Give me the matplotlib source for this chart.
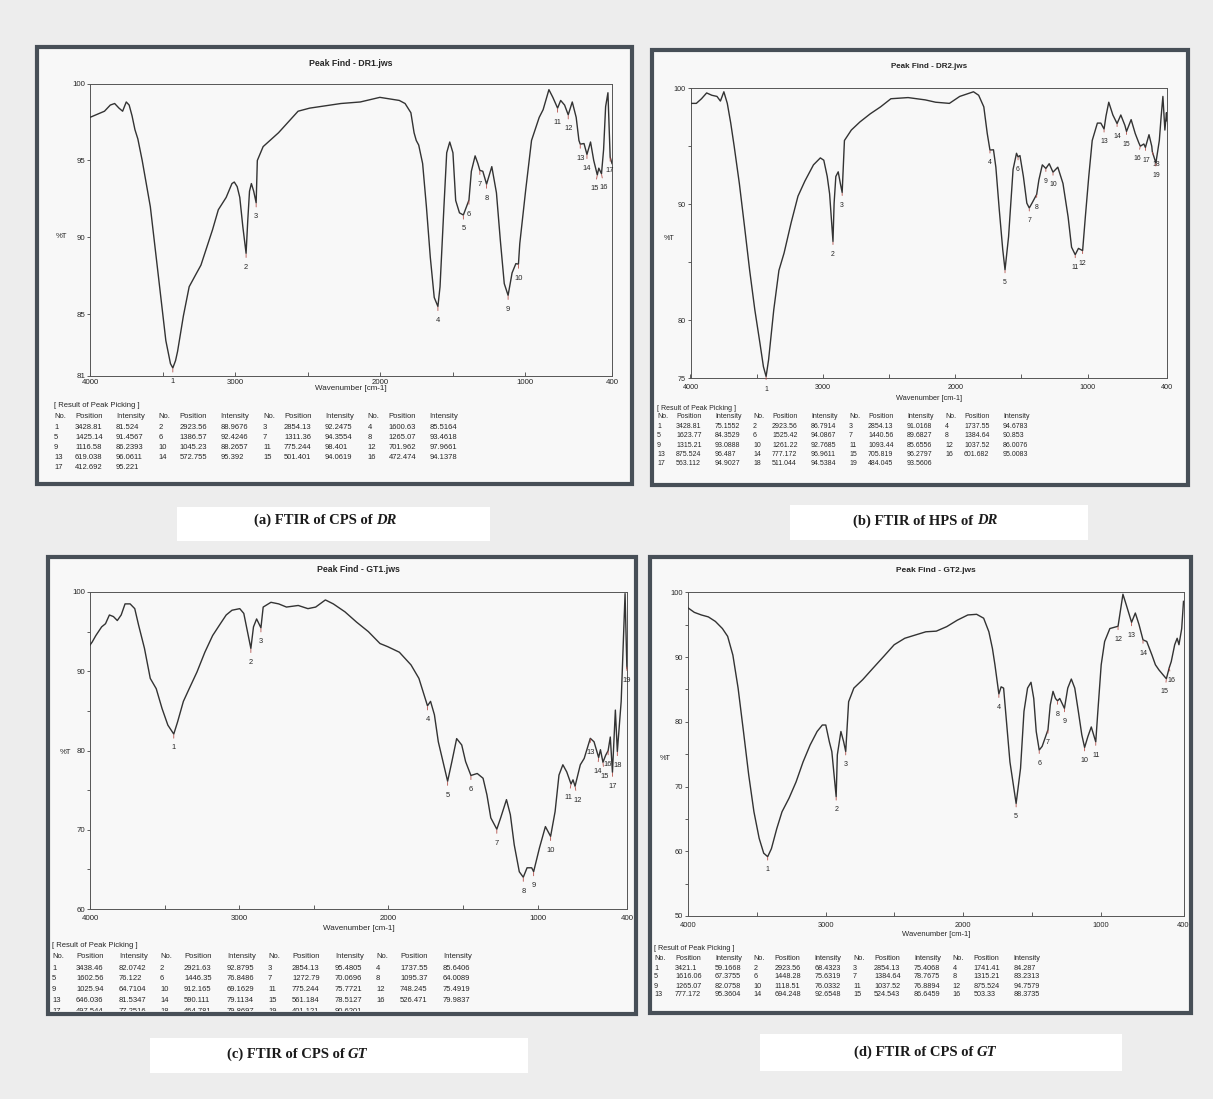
import matplotlib
matplotlib.use('Agg')
import matplotlib.pyplot as plt
from matplotlib.patches import Rectangle
from matplotlib.transforms import Bbox, TransformedBbox

# ---------------------------------------------------------------- data
# (a) DR1 spectrum
WN_DR1 = [4000, 3950, 3900, 3860, 3830, 3800, 3775, 3750, 3730, 3710, 3690, 3670, 3640, 3584,
          3531, 3477, 3445, 3428.81, 3410, 3396, 3356, 3316, 3270, 3235, 3155, 3115, 3061, 3021,
          3005, 2985, 2967, 2946, 2923.56, 2912, 2900, 2887, 2871, 2854.13, 2846, 2806, 2700,
          2565, 2485, 2270, 2136, 2001, 1867, 1827, 1787, 1765, 1750, 1733, 1706, 1680, 1653,
          1626, 1600.63, 1586, 1559, 1540, 1519, 1497, 1478, 1452, 1425.14, 1386.57, 1370, 1344,
          1325, 1311.36, 1291, 1265.07, 1229, 1197, 1170, 1143, 1116.58, 1089, 1063, 1045.23,
          1036, 995, 955, 902, 875, 835, 808, 775.244, 754, 727, 701.962, 674, 647, 628, 619.038,
          593, 572.755, 548, 526, 501.401, 491, 472.474, 458, 444, 428, 412.692, 400]
T_DR1 = [97.8, 98.0, 98.2, 98.6, 98.7, 98.4, 98.2, 98.8, 98.6, 97.9, 97.0, 96.4, 95.0, 92.0,
         87.7, 83.3, 81.8, 81.524, 82.0, 82.6, 84.9, 86.8, 87.6, 88.2, 90.5, 91.8, 92.6, 93.5,
         93.6, 93.3, 92.6, 90.7, 88.9676, 91.1, 93.0, 93.5, 93.0, 92.2475, 95.0, 95.9, 96.8,
         98.2, 98.4, 98.7, 98.8, 99.1, 98.9, 98.7, 98.1, 96.8, 96.3, 96.0, 94.8, 92.0, 88.7,
         86.1, 85.5164, 86.8, 92.0, 95.5, 96.2, 95.5, 92.4, 91.6, 91.4567, 92.4246, 94.3, 95.3,
         94.8, 94.3554, 94.3, 93.4618, 94.6, 92.9, 89.8, 87.0, 86.2393, 87.7, 88.3, 88.2657,
         89.6, 93.1, 96.3, 97.8, 98.3, 99.6, 99.1, 98.401, 98.9, 98.6, 97.9661, 98.8, 97.8, 96.3,
         96.0611, 96.1, 95.392, 96.2, 95.0, 94.0619, 94.5, 94.1378, 95.7, 98.5, 99.4, 95.221, 94.8]
PK_POS_DR1 = [3428.81, 2923.56, 2854.13, 1600.63, 1425.14, 1386.57, 1311.36, 1265.07, 1116.58,
              1045.23, 775.244, 701.962, 619.038, 572.755, 501.401, 472.474, 412.692]
PK_INT_DR1 = [81.524, 88.9676, 92.2475, 85.5164, 91.4567, 92.4246, 94.3554, 93.4618, 86.2393,
              88.2657, 98.401, 97.9661, 96.0611, 95.392, 94.0619, 94.1378, 95.221]

# (b) DR2 spectrum
WN_DR2 = [4000, 3956, 3917, 3878, 3839, 3800, 3774, 3748, 3722, 3696, 3670, 3631, 3592, 3553,
          3514, 3475, 3449, 3428.81, 3410, 3371, 3332, 3293, 3240, 3188, 3136, 3071, 3019, 2993,
          2967, 2949, 2923.56, 2915, 2902, 2884, 2868, 2854.13, 2837, 2785, 2720, 2642, 2564,
          2486, 2356, 2226, 2148, 2044, 2018, 1966, 1862, 1823, 1784, 1758, 1737.55, 1711, 1693,
          1667, 1641, 1623.77, 1597, 1563, 1537, 1525.42, 1511, 1485, 1459, 1440.56, 1420,
          1384.64, 1368, 1342, 1315.21, 1290, 1261.22, 1225, 1186, 1147, 1121, 1093.44, 1069,
          1037.52, 1017, 991, 965, 926, 900, 875.524, 861, 840, 809, 777.172, 749, 718, 705.819,
          671, 640, 613, 601.682, 575, 563.112, 536, 515, 511.044, 484.045, 458, 444, 431, 416,
          404, 400]
T_DR2 = [98.7, 98.7, 99.1, 99.6, 99.4, 99.3, 98.9, 99.7, 98.7, 97.0, 95.0, 91.8, 88.1, 84.3,
         80.9, 78.0, 76.0, 75.1552, 76.6, 80.9, 84.3, 85.8, 88.4, 90.7, 92.0, 93.4, 94.0, 93.8,
         92.4, 90.9, 86.7914, 90.1, 92.4, 92.8, 91.8, 91.0168, 95.5, 96.4, 97.1, 97.8, 98.4,
         99.1, 99.2, 99.0, 98.8, 98.7, 98.9, 99.3, 99.7, 99.4, 98.4, 96.1, 94.6783, 94.7, 93.2,
         89.5, 86.1, 84.3529, 87.2, 93.0, 94.4, 94.0867, 94.2, 92.4, 90.1, 89.6827, 90.1,
         90.853, 92.1, 93.4, 93.0888, 93.5, 92.7685, 93.2, 91.8, 88.9, 86.3, 85.6556, 86.2,
         86.0076, 88.9, 92.4, 95.5, 97.0, 97.0, 96.487, 97.6, 98.8, 97.7, 96.9611, 97.7, 96.8,
         96.2797, 97.3, 96.1, 95.3, 95.0083, 95.2, 94.9027, 96.0, 95.0, 94.5384, 93.5606, 95.5,
         97.6, 99.3, 96.4, 97.9, 97.2]
PK_POS_DR2 = [3428.81, 2923.56, 2854.13, 1737.55, 1623.77, 1525.42, 1440.56, 1384.64, 1315.21,
              1261.22, 1093.44, 1037.52, 875.524, 777.172, 705.819, 601.682, 563.112, 511.044,
              484.045]
PK_INT_DR2 = [75.1552, 86.7914, 91.0168, 94.6783, 84.3529, 94.0867, 89.6827, 90.853, 93.0888,
              92.7685, 85.6556, 86.0076, 96.487, 96.9611, 96.2797, 95.0083, 94.9027, 94.5384,
              93.5606]

# (c) GT1 spectrum
WN_GT1 = [4000, 3985, 3961, 3922, 3896, 3870, 3843, 3817, 3791, 3765, 3731, 3700, 3674, 3635,
          3596, 3556, 3517, 3478, 3438.46, 3413, 3374, 3335, 3283, 3230, 3178, 3126, 3087, 3048,
          2996, 2969, 2921.63, 2904, 2883, 2854.13, 2839, 2787, 2735, 2683, 2604, 2539, 2487,
          2422, 2369, 2291, 2213, 2134, 2056, 2004, 1926, 1848, 1795, 1737.55, 1717, 1691, 1665,
          1602.56, 1574, 1542, 1508, 1482, 1446.35, 1404, 1365, 1339, 1313, 1272.79, 1247, 1208,
          1182, 1156, 1122, 1095.37, 1070, 1039, 1025.94, 987, 947, 912.165, 882, 856, 830, 804,
          775.244, 762, 748.245, 713, 687, 646.036, 621, 590.111, 578, 561.184, 543, 526.471,
          512, 497.544, 478, 464.781, 439, 413, 401.121, 400]
T_GT1 = [93.3, 93.7, 94.5, 95.6, 96.0, 97.1, 96.9, 96.4, 97.1, 98.5, 98.5, 97.9, 95.8, 92.9,
         89.1, 87.8, 85.3, 83.2, 82.0742, 83.6, 86.2, 87.8, 89.9, 92.4, 94.5, 96.0, 97.1, 97.7,
         97.9, 97.3, 92.8795, 95.6, 96.6, 95.4805, 98.1, 98.7, 98.5, 98.1, 98.3, 97.9, 98.1,
         99.0, 98.5, 97.5, 96.2, 95.0, 93.5, 93.1, 92.4, 90.8, 89.1, 85.6406, 86.2, 84.5, 81.1,
         76.122, 78.6, 81.5, 80.7, 78.6, 76.8486, 77.1, 76.5, 74.4, 71.5, 70.0696, 71.5, 73.8,
         71.9, 68.1, 64.7, 64.0089, 65.2, 65.2, 64.7104, 67.7, 70.4, 69.1629, 72.3, 76.9, 78.2,
         77.3, 75.7721, 76.3, 75.4919, 78.2, 79.0, 81.5347, 81.1, 79.1134, 80.1, 78.5127, 79.4,
         79.9837, 81.7, 77.2516, 85.1, 79.8697, 86.2, 99.8, 90.6201, 90.4]
PK_POS_GT1 = [3438.46, 2921.63, 2854.13, 1737.55, 1602.56, 1446.35, 1272.79, 1095.37, 1025.94,
              912.165, 775.244, 748.245, 646.036, 590.111, 561.184, 526.471, 497.544, 464.781,
              401.121]
PK_INT_GT1 = [82.0742, 92.8795, 95.4805, 85.6406, 76.122, 76.8486, 70.0696, 64.0089, 64.7104,
              69.1629, 75.7721, 75.4919, 81.5347, 79.1134, 78.5127, 79.9837, 77.2516, 79.8697,
              90.6201]

# (d) GT2 spectrum
WN_GT2 = [4000, 3954, 3903, 3852, 3801, 3750, 3712, 3674, 3636, 3597, 3559, 3521, 3483, 3450,
          3421.1, 3394, 3355, 3317, 3266, 3215, 3164, 3113, 3062, 3024, 2999, 2973, 2955,
          2923.56, 2915, 2889, 2869, 2854.13, 2833, 2795, 2731, 2655, 2578, 2502, 2425, 2349,
          2272, 2196, 2120, 2043, 1967, 1903, 1852, 1814, 1788, 1770, 1741.41, 1725, 1707, 1686,
          1661, 1616.06, 1584, 1559, 1533, 1508, 1488, 1470, 1448.28, 1427, 1384.64, 1368, 1348,
          1330, 1315.21, 1299, 1265.07, 1241, 1215, 1190, 1164, 1139, 1118.51, 1095, 1070,
          1037.52, 1024, 998, 973, 935, 875.524, 840, 815, 777.172, 750, 723, 694.248, 667, 629,
          604, 578, 524.543, 503.33, 489, 464, 446, 433, 413, 400]
T_GT2 = [97.6, 96.9, 96.5, 96.2, 95.5, 94.4, 93.2, 90.3, 85.2, 78.5, 71.8, 66.1, 62.0, 59.7,
         59.1668, 60.4, 63.5, 66.1, 68.2, 70.7, 73.8, 76.4, 78.5, 79.5, 79.5, 76.9, 75.4,
         68.4323, 74.9, 78.5, 76.9, 75.4068, 83.1, 85.2, 86.5, 88.3, 90.1, 91.9, 92.9, 93.4,
         93.9, 94.0, 94.7, 95.7, 96.5, 96.6, 96.0, 93.9, 91.3, 88.8, 84.287, 85.4, 85.2, 80.0,
         73.8, 67.3755, 72.8, 81.6, 85.2, 86.1, 83.6, 78.5, 75.6319, 76.2, 78.7675, 82.6, 84.7,
         83.6, 83.2313, 83.6, 82.0758, 85.2, 86.6, 85.2, 81.6, 78.0, 76.0332, 77.7, 79.2,
         76.8894, 81.1, 88.8, 92.4, 94.4, 94.7579, 99.7, 98.0, 95.3604, 96.8, 95.0, 92.6548,
         92.4, 90.3, 88.8, 88.0, 86.6459, 88.3735, 89.3, 91.9, 92.9, 91.9, 94.4, 98.6]
PK_POS_GT2 = [3421.1, 2923.56, 2854.13, 1741.41, 1616.06, 1448.28, 1384.64, 1315.21, 1265.07,
              1118.51, 1037.52, 875.524, 777.172, 694.248, 524.543, 503.33]
PK_INT_GT2 = [59.1668, 68.4323, 75.4068, 84.287, 67.3755, 75.6319, 78.7675, 83.2313, 82.0758,
              76.0332, 76.8894, 94.7579, 95.3604, 92.6548, 86.6459, 88.3735]

TITLES = ['Peak Find - DR1.jws', 'Peak Find - DR2.jws', 'Peak Find - GT1.jws', 'Peak Find - GT2.jws']
CAPTION_MAIN = ['(a) FTIR of CPS of ', '(b) FTIR of HPS of ', '(c) FTIR of CPS of ', '(d) FTIR of CPS of ']
CAPTION_ITAL = ['DR', 'DR', 'GT', 'GT']
X_TICKS = [4000, 3000, 2000, 1000, 400]
Y_TICKS = [[100, 95, 90, 85, 81], [100, 90, 80, 75], [100, 90, 80, 70, 60], [100, 90, 80, 70, 60, 50]]
Y_MINOR = [[], [95, 85], [95, 85, 75, 65], [95, 85, 75, 65, 55]]
Y_MIN = [81, 75, 60, 50]

# ---------------------------------------------------------------- style / layout
W, H = 1213, 1099
BG = '#ededed'
PANEL_BG = '#f8f8f8'
FRAME = '#474f57'
LINE = '#333333'
TXT = '#262626'
MARK = '#b4504a'
SANS = ['Liberation Sans', 'DejaVu Sans']
SERIF = ['Liberation Serif', 'DejaVu Serif']

fig = plt.figure(figsize=(W / 100, H / 100), dpi=100, facecolor=BG)


def fx(x):
    return x / W


def fy(y):
    return 1 - y / H


def frect(x0, y0, x1, y1):
    return [x0 / W, 1 - y1 / H, (x1 - x0) / W, (y1 - y0) / H]


# label nudges (points) for crowded peak numbers: {index: dx}
LAYOUT = [
    dict(frame=(37, 47, 632, 484), axes=(90, 83.5, 612, 376), title_y=63, xpad=2.0, xlab_y=388,
         pct=(62, 236), tab_x0=54, tab_dx=104.5, tab_off=(0, 21, 62), tab_y=(406, 417, 427.5), tab_dy=10,
         cap_box=(177, 507, 490, 541), cap_c=(325, 520), scale=1.0, nudge={14: -1.8, 15: 1.8}),
    dict(frame=(652, 50, 1188, 485), axes=(690.5, 88.3, 1167, 378.3), title_y=67, xpad=4.0, xlab_y=398,
         pct=(669, 238), tab_x0=657, tab_dx=96, tab_off=(0, 19, 58), tab_y=(408, 417, 426.5), tab_dy=9.3,
         cap_box=(790, 505, 1088, 540), cap_c=(925, 521), scale=0.92,
         nudge={15: -2.0, 16: 0.5, 17: 2.5}),
    dict(frame=(48, 557, 636, 1014), axes=(90, 592, 627, 909), title_y=569, xpad=4.5, xlab_y=929,
         pct=(65, 753), tab_x0=52, tab_dx=108, tab_off=(0, 24, 67), tab_y=(945.5, 957, 968), tab_dy=10.9,
         cap_box=(150, 1038, 528, 1073), cap_c=(297, 1054), scale=1.0,
         nudge={10: -1.8, 11: 1.8, 13: -1.0, 14: 1.0}),
    dict(frame=(650, 557, 1191, 1013), axes=(688, 592.3, 1183.5, 916), title_y=571, xpad=4.5, xlab_y=934,
         pct=(665, 758), tab_x0=654, tab_dx=99.5, tab_off=(0, 21, 61), tab_y=(949, 958.5, 968), tab_dy=9,
         cap_box=(760, 1034, 1122, 1071), cap_c=(925, 1052), scale=0.95, nudge={14: -1.0, 15: 1.5}),
]

SPECTRA = [(WN_DR1, T_DR1, PK_POS_DR1, PK_INT_DR1),
           (WN_DR2, T_DR2, PK_POS_DR2, PK_INT_DR2),
           (WN_GT1, T_GT1, PK_POS_GT1, PK_INT_GT1),
           (WN_GT2, T_GT2, PK_POS_GT2, PK_INT_GT2)]

renderer = fig.canvas.get_renderer()

for i in range(4):
    L = LAYOUT[i]
    wn, tr, ppos, pint = SPECTRA[i]
    s = L['scale']
    x0, y0, x1, y1 = L['frame']
    # panel fill and frame
    fig.add_artist(Rectangle((fx(x0), fy(y1)), (x1 - x0) / W, (y1 - y0) / H, transform=fig.transFigure,
                             facecolor=PANEL_BG, edgecolor='none', zorder=0))
    fig.add_artist(Rectangle((fx(x0), fy(y1)), (x1 - x0) / W, (y1 - y0) / H, transform=fig.transFigure,
                             facecolor='none', edgecolor=FRAME, lw=3.0, zorder=20))
    clip = TransformedBbox(Bbox([[fx(x0 + 2), fy(y1 - 3.5)], [fx(x1 - 2), fy(y0 + 2)]]), fig.transFigure)

    ax = fig.add_axes(frect(*L['axes']))
    ax.set_facecolor(PANEL_BG)
    ax.plot(wn, tr, color=LINE, lw=1.0, zorder=3)
    ax.set_xlim(4000, 400)
    ax.set_ylim(Y_MIN[i], 100)
    ax.set_xticks(X_TICKS)
    ax.set_xticklabels([str(v) for v in X_TICKS])
    ax.set_xticks([3500, 2500, 1500], minor=True)
    ax.set_yticks(Y_TICKS[i])
    ax.set_yticklabels([str(v) for v in Y_TICKS[i]])
    ax.set_yticks(Y_MINOR[i], minor=True)
    ax.tick_params(axis='x', which='both', direction='in', length=3, width=0.6, pad=L['xpad'],
                   labelsize=5.7 * s, colors='#444', labelcolor=TXT)
    ax.tick_params(axis='y', which='both', direction='out', length=2.5, width=0.6, pad=1,
                   labelsize=5.7 * s, colors='#444', labelcolor=TXT)
    for lab in ax.get_xticklabels() + ax.get_yticklabels():
        lab.set_family(SANS)
    for sp in ax.spines.values():
        sp.set_color('#555555')
        sp.set_linewidth(0.7)

    # peak markers and numbers
    for k, (p, t) in enumerate(zip(ppos, pint)):
        dx = L['nudge'].get(k, 0.0)
        ax.annotate(str(k + 1), xy=(p, t), xytext=(dx, -10 * s), textcoords='offset points',
                    ha='center', va='center', fontsize=5.4 * s, color=TXT, family=SANS, zorder=4,
                    arrowprops=dict(arrowstyle='-', color=MARK, lw=0.6, shrinkA=2.5, shrinkB=0.5))

    # texts
    cx = (L['axes'][0] + L['axes'][2]) / 2
    fig.text(fx(cx), fy(L['title_y']), TITLES[i], ha='center', va='center', fontsize=6.3 * s,
             fontweight='bold', color=TXT, family=SANS)
    fig.text(fx(cx), fy(L['xlab_y']), 'Wavenumber [cm-1]', ha='center', va='center', fontsize=5.8 * s,
             color=TXT, family=SANS)
    fig.text(fx(L['pct'][0]), fy(L['pct'][1]), '%T', ha='center', va='center', fontsize=5.6 * s,
             color=TXT, family=SANS)

    # result table
    tx0, tdx, toff = L['tab_x0'], L['tab_dx'], L['tab_off']
    ty_title, ty_head, ty_row = L['tab_y']
    fsz = 5.5 * s
    fig.text(fx(tx0), fy(ty_title), '[ Result of Peak Picking ]', ha='left', va='center', fontsize=fsz,
             color=TXT, family=SANS)
    for g in range(4):
        for name, off in zip(['No.', 'Position', 'Intensity'], toff):
            fig.text(fx(tx0 + g * tdx + off), fy(ty_head), name, ha='left', va='center', fontsize=fsz,
                     color=TXT, family=SANS)
    for k, (p, t) in enumerate(zip(ppos, pint)):
        r, g = divmod(k, 4)
        yy = ty_row + r * L['tab_dy']
        for val, off in zip([str(k + 1), '%.6g' % p, '%.6g' % t], toff):
            tt = fig.text(fx(tx0 + g * tdx + off), fy(yy), val, ha='left', va='center', fontsize=fsz,
                          color=TXT, family=SANS)
            tt.set_clip_box(clip)
            tt.set_clip_on(True)

    # caption
    bx0, by0, bx1, by1 = L['cap_box']
    fig.add_artist(Rectangle((fx(bx0), fy(by1)), (bx1 - bx0) / W, (by1 - by0) / H, transform=fig.transFigure,
                             facecolor='white', edgecolor='none', zorder=1))
    t1 = fig.text(0, 0, CAPTION_MAIN[i].rstrip(), ha='left', va='center', fontsize=10.5, fontweight='bold',
                  color='#1a1a1a', family=SERIF, zorder=5)
    t2 = fig.text(0, 0, CAPTION_ITAL[i], ha='left', va='center', fontsize=10.5, fontweight='bold',
                  fontstyle='italic', color='#1a1a1a', family=SERIF, zorder=5)
    w1 = t1.get_window_extent(renderer).width
    w2 = t2.get_window_extent(renderer).width
    gap = 3.6
    start = L['cap_c'][0] - (w1 + gap + w2) / 2
    t1.set_position((fx(start), fy(L['cap_c'][1])))
    t2.set_position((fx(start + w1 + gap), fy(L['cap_c'][1])))

fig.savefig('out.png', dpi=100, facecolor=BG)
